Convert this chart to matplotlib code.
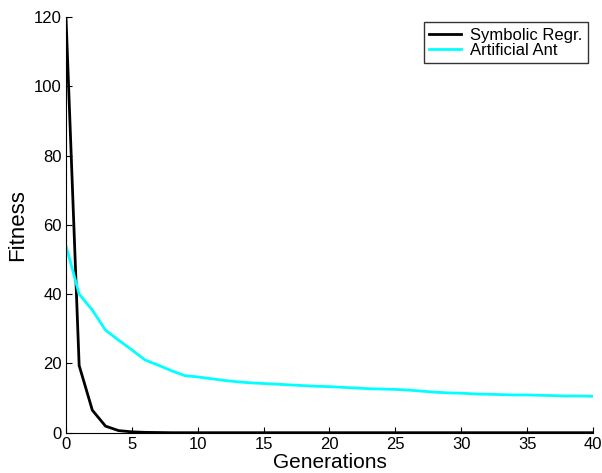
import matplotlib
matplotlib.use("Agg")
import matplotlib.pyplot as plt

plt.rcParams['font.family'] = ['Liberation Sans', 'DejaVu Sans']

# generations and fitness values
gens = list(range(41))
symbolic = [120, 19.4, 6.5, 1.9, 0.6, 0.25, 0.1, 0.05] + [0.0] * 33
ant = [54, 40, 35.4, 29.6, 26.7, 23.9, 21.0, 19.5, 17.9, 16.5,
       16.1, 15.6, 15.1, 14.7, 14.4, 14.2, 14.0, 13.8, 13.6, 13.4,
       13.3, 13.1, 12.9, 12.7, 12.6, 12.5, 12.3, 12.0, 11.7, 11.5,
       11.4, 11.2, 11.1, 11.0, 10.9, 10.9, 10.8, 10.7, 10.6, 10.6, 10.5]

fig = plt.figure(figsize=(6.02, 4.73), dpi=100)
ax = fig.add_axes([0.1096, 0.0852, 0.8754, 0.8788])

ax.plot(gens, symbolic, color='black', lw=2, label='Symbolic Regr.')
ax.plot(gens, ant, color='cyan', lw=2, label='Artificial Ant')

ax.set_xlim(0, 40)
ax.set_ylim(0, 120)
ax.set_xticks(range(0, 41, 5))
ax.set_yticks(range(0, 121, 20))
ax.spines['top'].set_visible(False)
ax.spines['right'].set_visible(False)
ax.tick_params(direction='in', labelsize=12, length=4, pad=3)
ax.set_xlabel('Generations', fontsize=15, labelpad=0.5)
ax.set_ylabel('Fitness', fontsize=16, labelpad=4)

leg = ax.legend(loc='upper right', fontsize=12, frameon=True, fancybox=False,
                edgecolor='black', borderpad=0.33, handlelength=1.9,
                handletextpad=0.55, labelspacing=0.0, borderaxespad=0.3)
leg.get_frame().set_linewidth(1)

fig.savefig('out.png', dpi=100)
